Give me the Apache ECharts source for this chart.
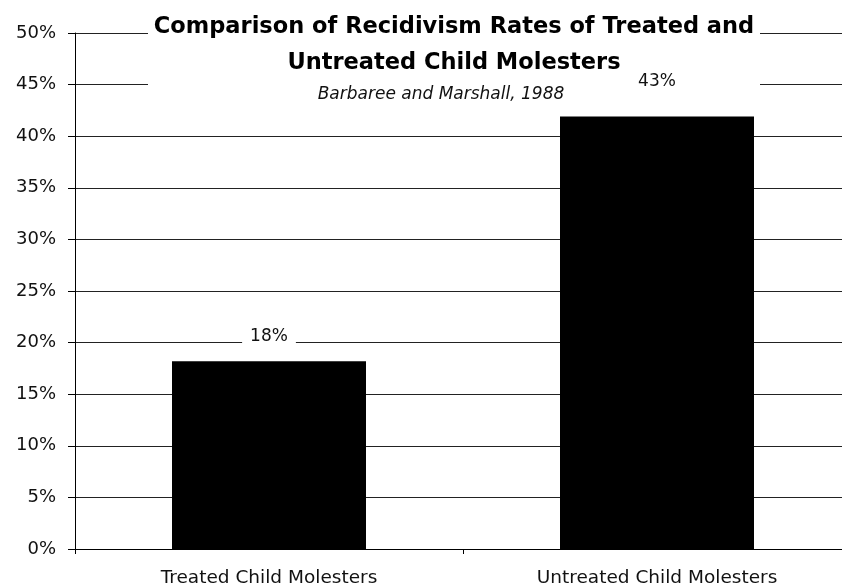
<!DOCTYPE html>
<html>
<head>
<meta charset="utf-8">
<script src="https://cdn.jsdelivr.net/npm/echarts@6/dist/echarts.min.js"></script>
<style>
  * { margin: 0; padding: 0; }
  body { background: #fff; overflow: hidden; }
  /* plot runs a bit past the right edge, like the original */
  #mychart { width: 851px; height: 588px; }
</style>
</head>
<body>
<div id="mychart"></div>
<script>
const categories = ["Treated Child Molesters", "Untreated Child Molesters"];
const rates = [18.2, 41.9];
const rateLabels = ["18%", "43%"];
const titleLines = ["Comparison of Recidivism Rates of Treated and", "Untreated Child Molesters"];
const sourceText = "Barbaree and Marshall, 1988";

const font = "DejaVu Sans";
const labelDist = [14, 25];

function initChart() {
    var chart = echarts.init(document.getElementById("mychart"));
    const option = {
        animation: false,
        backgroundColor: "#fff",
        title: [
            {
                text: titleLines.join("\n"),
                left: 454,
                top: 9,
                textAlign: "center",
                padding: 0,
                textStyle: {
                    fontFamily: font,
                    fontWeight: "bold",
                    fontSize: 22.5,
                    lineHeight: 36,
                    color: "#000"
                }
            },
            {
                text: sourceText,
                left: 441,
                top: 85,
                textAlign: "center",
                padding: 0,
                textStyle: {
                    fontFamily: font,
                    fontStyle: "italic",
                    fontWeight: "normal",
                    fontSize: 17,
                    lineHeight: 20,
                    color: "#111"
                }
            }
        ],
        graphic: [
            {
                type: "rect",
                z: 1,
                shape: { x: 148, y: 10, width: 612, height: 100 },
                style: { fill: "#fff" }
            }
        ],
        grid: {
            left: 75,
            right: 0,
            top: 33,
            bottom: 39
        },
        xAxis: {
            type: "category",
            data: categories,
            axisLine: { lineStyle: { color: "#000", width: 1 } },
            axisTick: { show: true, length: 5, lineStyle: { color: "#000" } },
            axisLabel: {
                fontFamily: font,
                fontSize: 18.5,
                color: "#111",
                margin: 20
            }
        },
        yAxis: {
            type: "value",
            min: 0,
            max: 50,
            interval: 5,
            axisLine: { show: true, lineStyle: { color: "#000", width: 1 } },
            axisTick: { show: true, length: 7, lineStyle: { color: "#000" } },
            axisLabel: {
                formatter: "{value}%",
                fontFamily: font,
                fontSize: 18,
                color: "#111",
                margin: 19
            },
            splitLine: { show: true, lineStyle: { color: "#222", width: 1 } }
        },
        series: [
            {
                type: "bar",
                barWidth: "50%",
                z: 2,
                itemStyle: { color: "#000" },
                label: {
                    show: true,
                    position: "top",
                    fontFamily: font,
                    fontSize: 17,
                    color: "#111",
                    backgroundColor: "#fff",
                    padding: [2, 8]
                },
                data: rates.map(function (v, i) {
                    return {
                        value: v,
                        label: { distance: labelDist[i], formatter: rateLabels[i] }
                    };
                })
            }
        ]
    };
    chart.setOption(option);
}

initChart();
</script>
</body>
</html>
